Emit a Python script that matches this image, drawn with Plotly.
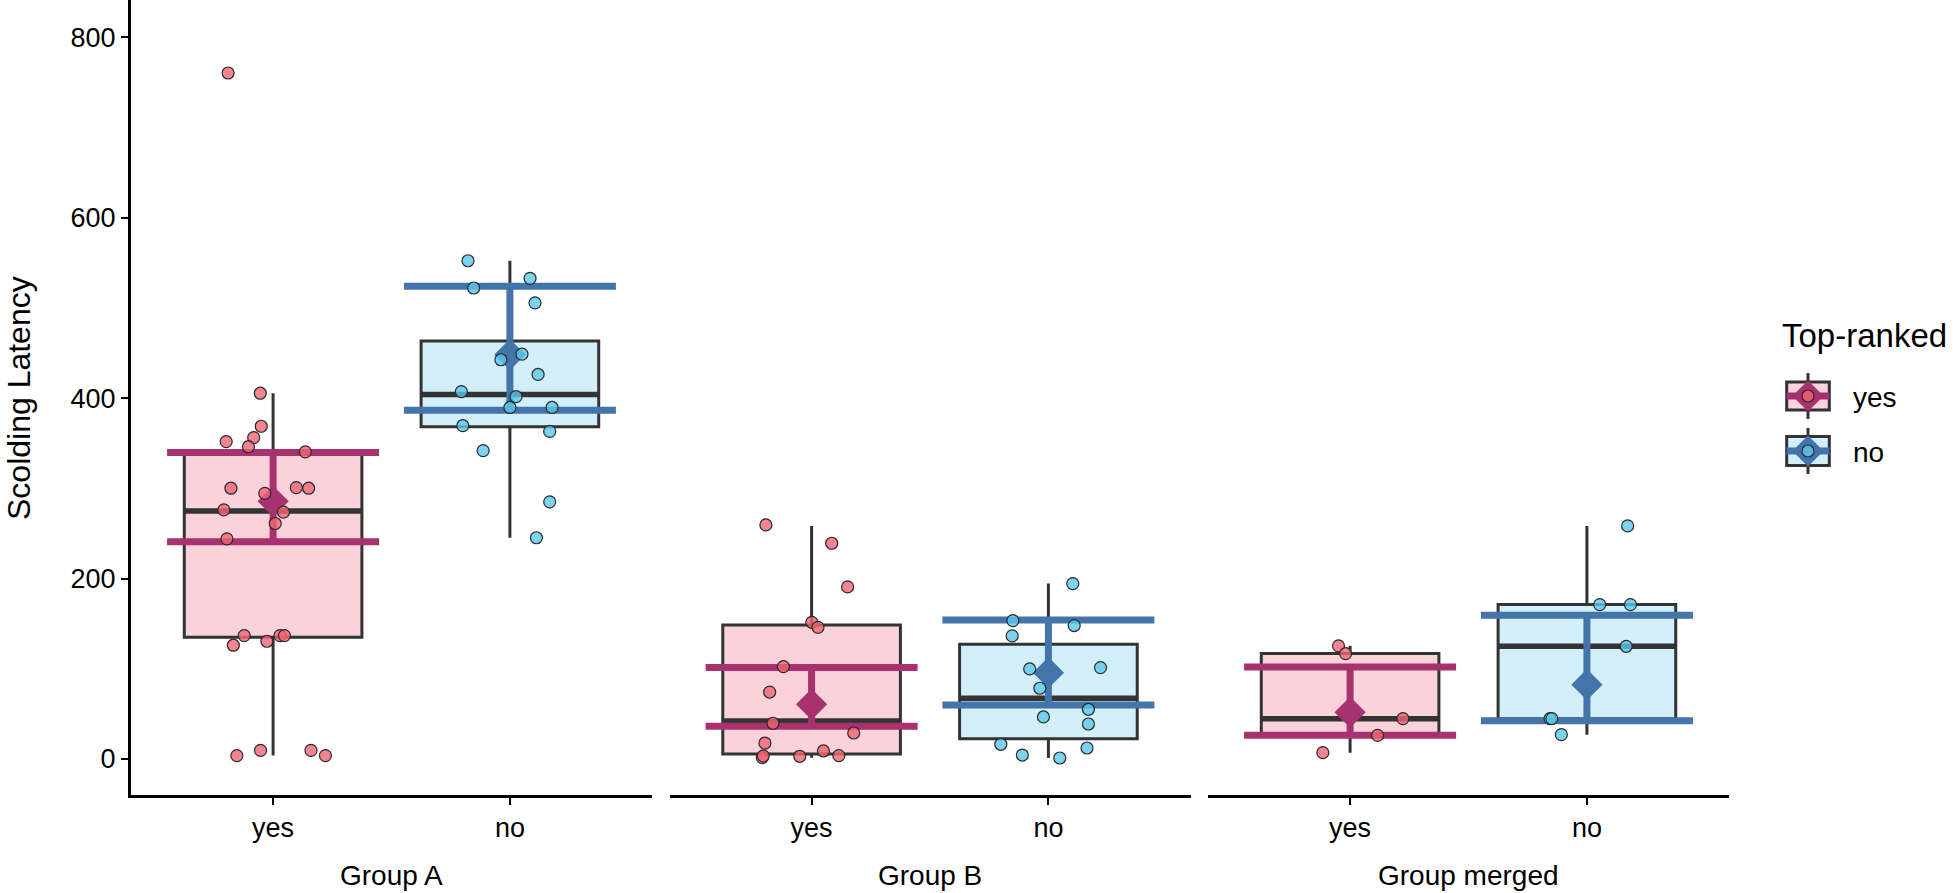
import plotly.graph_objects as go

# ---------------- data ----------------
groups = ["Group A", "Group B", "Group merged"]
ranks = ["yes", "no"]

# box statistics per group: [yes, no]
box_lower = [[3.8, 245.2], [1.5, 1.1], [7.0, 27.0]]
box_q1 = [[135.0, 368.2], [5.5, 22.5], [26.2, 44.7]]
box_median = [[274.9, 404.1], [42.1, 67.3], [44.7, 124.9]]
box_q3 = [[339.8, 463.3], [148.6, 127.2], [116.8, 171.1]]
box_upper = [[405.4, 552.2], [258.3, 194.4], [125.4, 258.3]]

# model mean and confidence interval
mean_val = [[285.6, 448.2], [60.6, 95.7], [51.8, 82.4]]
ci_low = [[240.8, 386.4], [36.2, 59.9], [26.2, 42.5]]
ci_high = [[339.8, 523.9], [101.3, 154.1], [102.0, 159.3]]

# raw observations and their horizontal jitter (category units)
a_yes_vals = [760.3, 405.4, 368.8, 356.2, 351.8, 346.1, 340.4, 300.1, 294.4, 300.7, 300.1, 276.1,
              273.6, 261.0, 244.0, 136.8, 126.1, 130.5, 136.8, 136.8, 3.8, 9.5, 9.5, 3.8]
a_yes_jit = [-0.190, -0.054, -0.050, -0.082, -0.198, -0.104, 0.136, -0.178, -0.035, 0.098, 0.150, -0.208,
             0.044, 0.009, -0.195, -0.122, -0.168, -0.026, 0.029, 0.048, -0.153, -0.053, 0.160, 0.221]
a_no_vals = [552.2, 532.7, 522.0, 505.6, 448.8, 442.5, 426.2, 407.2, 401.6, 389.6, 389.6, 369.4,
             363.1, 341.7, 285.0, 245.2]
a_no_jit = [-0.177, 0.085, -0.153, 0.106, 0.051, -0.038, 0.119, -0.205, 0.026, 0.000, 0.178, -0.199,
            0.168, -0.113, 0.168, 0.112]
b_yes_vals = [259.4, 239.1, 190.7, 151.5, 145.9, 102.3, 74.2, 39.6, 28.8, 17.7, 1.5, 3.5, 3.0, 8.9, 3.7]
b_yes_jit = [-0.193, 0.085, 0.152, 0.001, 0.027, -0.119, -0.177, -0.163, 0.178, -0.197, -0.208, -0.204,
             -0.050, 0.050, 0.115]
b_no_vals = [194.4, 153.4, 147.9, 136.4, 99.8, 101.3, 78.4, 55.1, 46.6, 38.8, 16.3, 12.2, 4.4, 1.1]
b_no_jit = [0.103, -0.150, 0.109, -0.153, -0.079, 0.220, -0.036, 0.169, -0.021, 0.169, -0.201, 0.163,
            -0.110, 0.048]
m_yes_vals = [125.4, 116.8, 44.7, 26.2, 7.0]
m_yes_jit = [-0.049, -0.019, 0.223, 0.116, -0.115]
m_no_vals = [258.3, 171.1, 171.1, 124.9, 44.7, 44.7, 27.0]
m_no_jit = [0.172, 0.054, 0.184, 0.166, -0.156, -0.148, -0.108]

point_vals = [[a_yes_vals, a_no_vals], [b_yes_vals, b_no_vals], [m_yes_vals, m_no_vals]]
point_jit = [[a_yes_jit, a_no_jit], [b_yes_jit, b_no_jit], [m_yes_jit, m_no_jit]]

y_ticks = [0, 200, 400, 600, 800]
y_title = "Scolding Latency"
legend_title = "Top-ranked"

# ---------------- styling ----------------
FONT = "Liberation Sans, Arial, sans-serif"
box_fill = ["#FAD3DA", "#D3EFF9"]
ci_color = ["#A8326F", "#4475AA"]
pt_fill = ["rgba(240,101,116,0.8)", "rgba(91,200,235,0.8)"]
pt_line = "#2a2a2a"
dark = "#333333"
BOX_W = 0.75
CI_W_PX = 106

W, H = 1960, 893
ML, MB = 131, 98
PW = W - ML
PH = H - MB
panel_px = [(131, 652), (669.5, 1190.5), (1208, 1729)]


def px_x(px):
    return (px - ML) / PW


def px_y(py):
    return (PH - py) / PH


fig = go.Figure()

for gi, g in enumerate(groups):
    xa = "x" if gi == 0 else f"x{gi + 1}"
    ya = "y" if gi == 0 else f"y{gi + 1}"
    # boxes
    for ri in range(2):
        pos = ri + 1
        fig.add_trace(go.Box(
            x=[pos], q1=[box_q1[gi][ri]], median=[box_median[gi][ri]], q3=[box_q3[gi][ri]],
            lowerfence=[box_lower[gi][ri]], upperfence=[box_upper[gi][ri]],
            width=BOX_W, fillcolor=box_fill[ri], line=dict(color=dark, width=3),
            whiskerwidth=0, boxpoints=False, showlegend=False, hoverinfo="skip",
            xaxis=xa, yaxis=ya))
    for ri in range(2):
        pos = ri + 1
        fig.add_trace(go.Scatter(
            x=[pos - BOX_W / 2, pos + BOX_W / 2], y=[box_median[gi][ri]] * 2, mode="lines",
            line=dict(color=dark, width=5.5), showlegend=False, hoverinfo="skip",
            xaxis=xa, yaxis=ya))
    # mean + CI
    for ri in range(2):
        pos = ri + 1
        m = mean_val[gi][ri]
        fig.add_trace(go.Scatter(
            x=[pos], y=[m], mode="markers",
            marker=dict(symbol="diamond", size=24, color=ci_color[ri], line=dict(width=0)),
            error_y=dict(type="data", symmetric=False, array=[ci_high[gi][ri] - m],
                         arrayminus=[m - ci_low[gi][ri]], color=ci_color[ri],
                         thickness=7, width=CI_W_PX),
            showlegend=False, hoverinfo="skip", xaxis=xa, yaxis=ya))
    # points
    for ri in range(2):
        pos = ri + 1
        fig.add_trace(go.Scatter(
            x=[pos + j for j in point_jit[gi][ri]], y=point_vals[gi][ri], mode="markers",
            marker=dict(symbol="circle", size=12, color=pt_fill[ri], line=dict(color=pt_line, width=1.2)),
            showlegend=False, hoverinfo="skip", xaxis=xa, yaxis=ya))

# ---------------- manual legend (pixel-coordinate axis) ----------------
LX0, LX1 = 1772, 1960
key_y = [396, 451]
key_half_h = [14, 14.5]
for ri in range(2):
    cy = key_y[ri]
    fig.add_shape(type="line", x0=1808, x1=1808, y0=cy - 23, y1=cy + 23,
                  xref="x4", yref="y4", line=dict(color=dark, width=3), layer="below")
    fig.add_shape(type="rect", x0=1786.7, x1=1829.3, y0=cy - key_half_h[ri], y1=cy + key_half_h[ri],
                  xref="x4", yref="y4", fillcolor=box_fill[ri], line=dict(color=dark, width=3),
                  layer="below")
    fig.add_trace(go.Scatter(x=[1786.7, 1829.3], y=[cy, cy], mode="lines",
                             line=dict(color=ci_color[ri], width=7), showlegend=False,
                             hoverinfo="skip", xaxis="x4", yaxis="y4"))
    fig.add_trace(go.Scatter(x=[1808], y=[cy], mode="markers",
                             marker=dict(symbol="diamond", size=24, color=ci_color[ri]),
                             showlegend=False, hoverinfo="skip", xaxis="x4", yaxis="y4"))
    fig.add_trace(go.Scatter(x=[1808], y=[cy], mode="markers",
                             marker=dict(symbol="circle", size=12, color=pt_fill[ri],
                                         line=dict(color=pt_line, width=1.2)),
                             showlegend=False, hoverinfo="skip", xaxis="x4", yaxis="y4"))
    fig.add_annotation(text=ranks[ri], x=px_x(1851), y=px_y(cy + 1), xref="paper", yref="paper",
                       xanchor="left", yanchor="middle", showarrow=False,
                       font=dict(family=FONT, size=28, color="black"))

fig.add_annotation(text=legend_title, x=px_x(1780), y=px_y(335), xref="paper", yref="paper",
                   xanchor="left", yanchor="middle", showarrow=False,
                   font=dict(family=FONT, size=33, color="black"))

# group labels under each panel
for gi, g in enumerate(groups):
    a, b = panel_px[gi]
    fig.add_annotation(text=g, x=px_x((a + b) / 2), y=px_y(875), xref="paper", yref="paper",
                       xanchor="center", yanchor="middle", showarrow=False,
                       font=dict(family=FONT, size=28, color="black"))

fig.add_annotation(text=y_title, x=px_x(19), y=px_y(398), xref="paper", yref="paper",
                   xanchor="center", yanchor="middle", textangle=-90, showarrow=False,
                   borderpad=0,
                   font=dict(family=FONT, size=32, color="black"))

YR = [-39.9, 841.2]
tickfont = dict(family=FONT, size=27, color="black")
layout = dict(
    width=W, height=H,
    margin=dict(l=ML, r=0, t=0, b=MB),
    paper_bgcolor="white", plot_bgcolor="white",
    showlegend=False,
)
for gi in range(3):
    a, b = panel_px[gi]
    xk = "xaxis" if gi == 0 else f"xaxis{gi + 1}"
    yk = "yaxis" if gi == 0 else f"yaxis{gi + 1}"
    ya = "y" if gi == 0 else f"y{gi + 1}"
    xa = "x" if gi == 0 else f"x{gi + 1}"
    layout[xk] = dict(domain=[px_x(a), px_x(b)], range=[0.4, 2.6], anchor=ya,
                      tickvals=[1, 2], ticktext=ranks, showline=True, linecolor="black",
                      linewidth=3, ticks="outside", ticklen=7, tickwidth=2, tickcolor="black",
                      showgrid=False, zeroline=False, tickfont=tickfont, fixedrange=True)
    layout[yk] = dict(domain=[0, 1], range=YR, anchor=xa, showgrid=False, zeroline=False,
                      fixedrange=True)
    if gi == 0:
        layout[yk].update(tickvals=y_ticks, showline=True, linecolor="black", linewidth=3,
                          ticks="outside", ticklen=7, tickwidth=2, tickcolor="black",
                          tickfont=tickfont)
    else:
        layout[yk].update(visible=False)

layout["xaxis4"] = dict(domain=[px_x(LX0), 1], range=[LX0, LX1], anchor="y4", visible=False,
                        fixedrange=True)
layout["yaxis4"] = dict(domain=[0, 1], range=[PH, 0], anchor="x4", visible=False, fixedrange=True)

fig.update_layout(**layout)
fig.write_html("out.html", config={"displayModeBar": False},
               post_script="document.body.style.margin='0px';")
